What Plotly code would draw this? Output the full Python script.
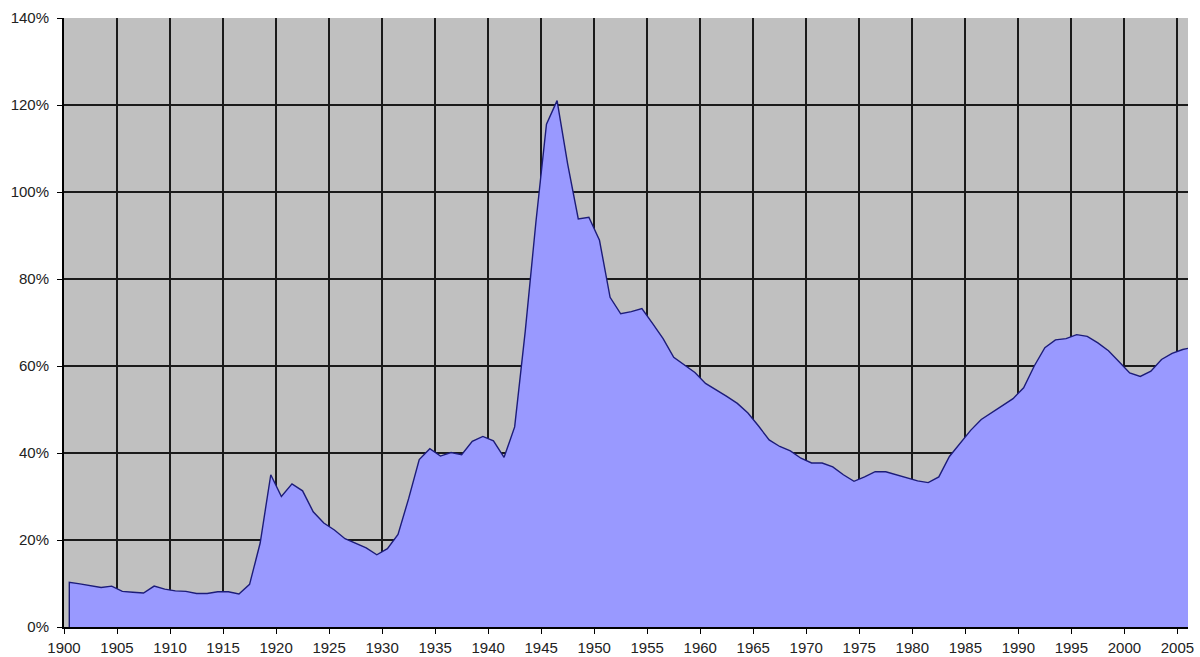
import plotly.graph_objects as go

years = list(range(1900, 2007))
debt_pct = [
    10.3, 9.9, 9.5, 9.1, 9.4, 8.2, 8.0, 7.8, 9.4, 8.7,      # 1900-1909
    8.3, 8.2, 7.7, 7.7, 8.1, 8.1, 7.6, 9.8, 19.3, 35.0,     # 1910-1919
    30.0, 32.9, 31.3, 26.5, 23.9, 22.3, 20.3, 19.3, 18.2, 16.6,  # 1920-1929
    18.0, 21.3, 29.5, 38.5, 41.0, 39.3, 40.1, 39.6, 42.7, 43.8,  # 1930-1939
    42.8, 39.0, 46.0, 68.0, 93.0, 115.6, 121.0, 106.4, 93.8, 94.2,  # 1940-1949
    88.9, 75.8, 72.0, 72.5, 73.2, 69.8, 66.3, 62.0, 60.3, 58.5,  # 1950-1959
    56.0, 54.6, 53.0, 51.4, 49.2, 46.2, 43.0, 41.5, 40.5, 38.8,  # 1960-1969
    37.7, 37.7, 36.8, 35.0, 33.5, 34.5, 35.7, 35.7, 35.0, 34.3,  # 1970-1979
    33.6, 33.2, 34.5, 39.2, 42.3, 45.2, 47.7, 49.4, 50.9, 52.5,  # 1980-1989
    55.0, 60.0, 64.2, 66.0, 66.3, 67.2, 66.8, 65.3, 63.5, 61.0,  # 1990-1999
    58.4, 57.6, 58.8, 61.5, 62.9, 63.8, 64.3,                    # 2000-2006
]
x_ticks = list(range(1900, 2006, 5))
y_ticks = list(range(0, 141, 20))

# values are mid-year observations
x_pos = [y + 0.5 for y in years]
# close the outline down to the baseline at the first observation
x_line = [x_pos[0]] + x_pos
y_line = [0] + debt_pct

fig = go.Figure()
fig.add_trace(go.Scatter(
    x=x_line, y=y_line, mode="lines",
    fill="tozeroy", fillcolor="#9999FF",
    line=dict(color="#1c1c78", width=1.4),
    hoverinfo="x+y", showlegend=False,
))

font = dict(family="Liberation Sans, Arial, sans-serif", size=15, color="#222222")

fig.update_layout(
    width=1200, height=657,
    margin=dict(l=64, r=12, t=18, b=30),
    paper_bgcolor="white",
    plot_bgcolor="#C0C0C0",
    font=font,
    xaxis=dict(
        range=[1900, 2006],
        tickmode="array", tickvals=x_ticks, ticktext=[str(v) for v in x_ticks],
        showgrid=True, gridcolor="#1a1a1a", gridwidth=2,
        showline=True, linecolor="black", linewidth=2,
        ticks="outside", ticklen=5, tickcolor="black", tickwidth=1,
        ticklabelstandoff=1,
        zeroline=False, tickfont=font, automargin=False,
    ),
    yaxis=dict(
        range=[0, 140],
        tickmode="array", tickvals=y_ticks, ticktext=[f"{v}%" for v in y_ticks],
        showgrid=True, gridcolor="#1a1a1a", gridwidth=2,
        showline=True, linecolor="black", linewidth=2,
        ticks="outside", ticklen=5, tickcolor="black", tickwidth=1,
        ticklabelstandoff=5,
        zeroline=False, tickfont=font, automargin=False,
    ),
)

fig.write_html("out.html", config={"displayModeBar": False},
               post_script="document.body.style.margin='0';")
